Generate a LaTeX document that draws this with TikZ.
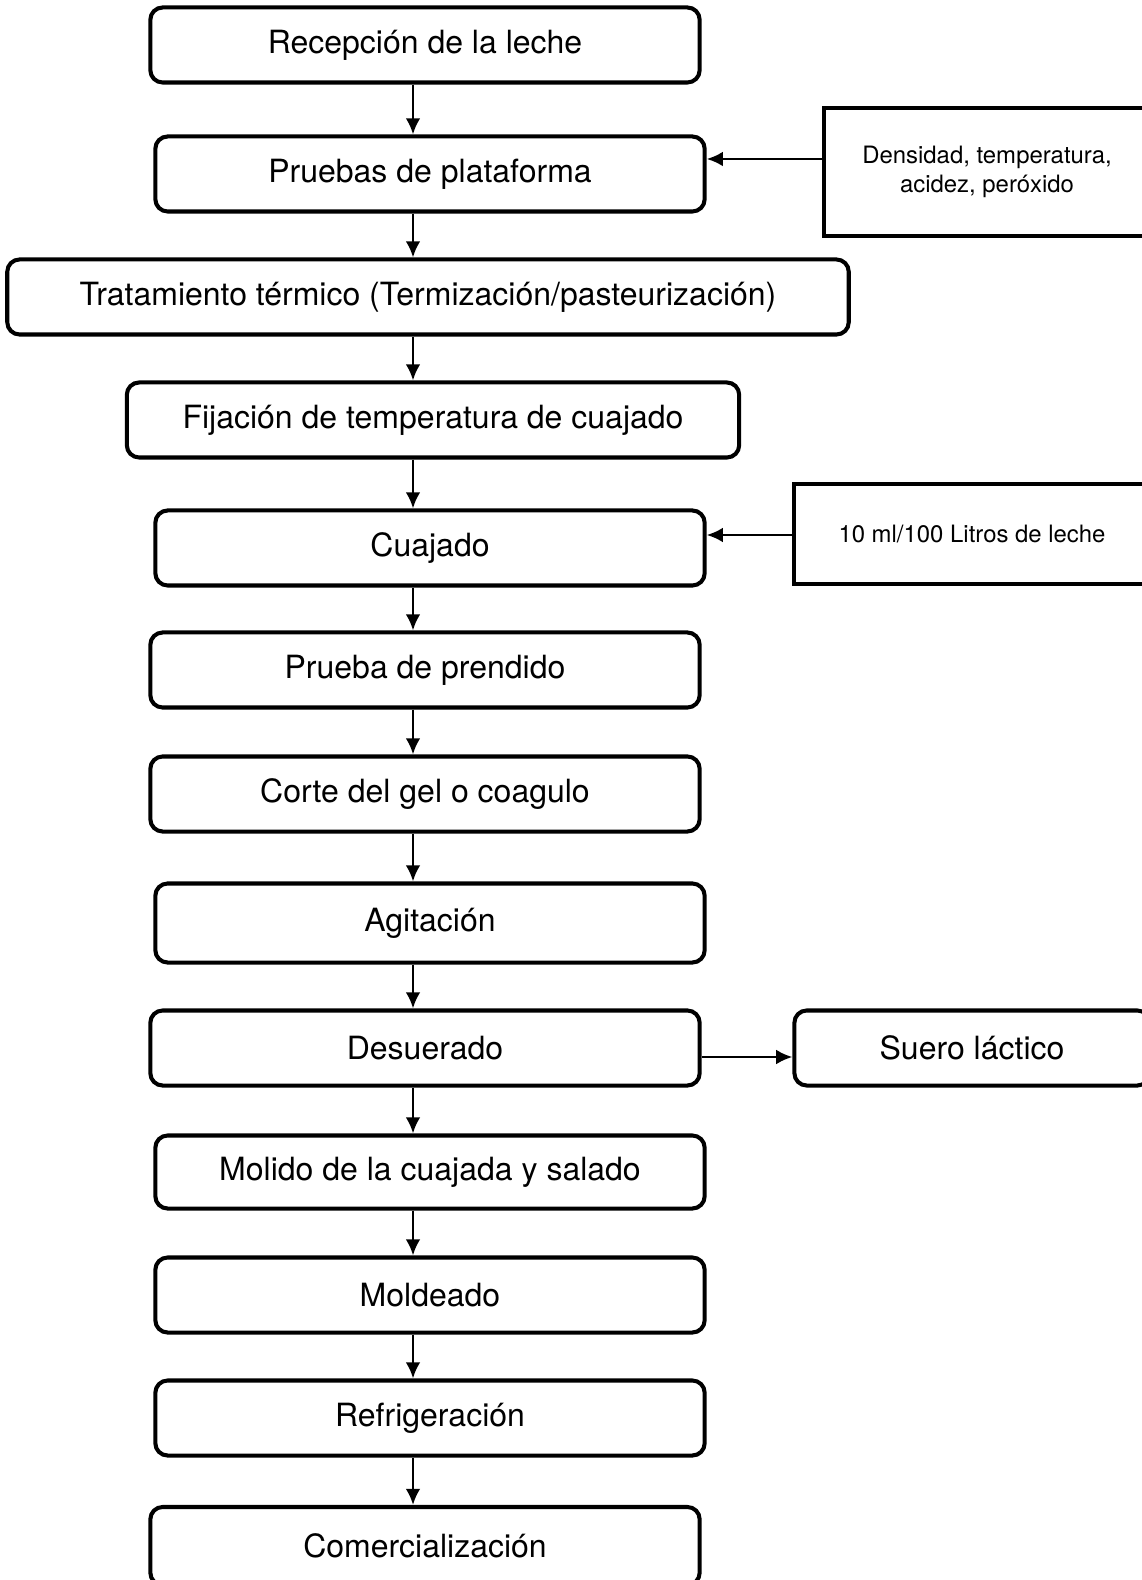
\documentclass[tikz,border=0pt]{standalone}
\usepackage{fontspec}
\setmainfont{TeX Gyre Heros}
\usetikzlibrary{arrows.meta}

\begin{document}
\begin{tikzpicture}[x=0.01cm,y=-0.01cm,
  paso/.style={draw,line width=1.15pt,rounded corners=3.5pt,minimum height=0.75cm,inner sep=0pt,font=\fontsize{9.1}{11}\selectfont},
  dato/.style={draw,line width=1.15pt,inner sep=0pt,align=center,font=\fontsize{6.8}{8.1}\selectfont},
  flecha/.style={-{Latex[length=4.6pt,width=4.2pt]},line width=0.75pt}]

\useasboundingbox (0,0) rectangle (1141,1580);

\node[paso,minimum width=5.49cm] (recep)    at (425,45)   {Recepción de la leche};
\node[paso,minimum width=5.49cm] (pruebas)  at (430,174)  {Pruebas de plataforma};
\node[paso,minimum width=8.41cm] (termico)  at (428,297)  {Tratamiento térmico (Termización/pasteurización)};
\node[paso,minimum width=6.12cm] (fijacion) at (433,420)  {Fijación de temperatura de cuajado};
\node[paso,minimum width=5.49cm] (cuajado)  at (430,548)  {Cuajado};
\node[paso,minimum width=5.49cm] (prendido) at (425,670)  {Prueba de prendido};
\node[paso,minimum width=5.49cm] (corte)    at (425,794)  {Corte del gel o coagulo};
\node[paso,minimum width=5.49cm,minimum height=0.79cm] (agitacion) at (430,923) {Agitación};
\node[paso,minimum width=5.49cm] (desuerado) at (425,1048) {Desuerado};
\node[paso,minimum width=5.49cm,minimum height=0.73cm] (molido) at (430,1172) {Molido de la cuajada y salado};
\node[paso,minimum width=5.49cm] (moldeado) at (430,1295) {Moldeado};
\node[paso,minimum width=5.49cm] (refrig)   at (430,1418) {Refrigeración};
\node[paso,minimum width=5.49cm,minimum height=0.78cm] (comercial) at (425,1546) {Comercialización};

% datos al lado derecho
\node[dato,minimum width=3.25cm,minimum height=1.27cm] (dens) at (987,172)
  {Densidad, temperatura,\\acidez, peróxido};
\node[dato,minimum width=3.55cm,minimum height=1.0cm] (ml) at (972,534)
  {10 ml/100 Litros de leche};
\node[paso,minimum width=3.55cm] (suero) at (972,1048) {Suero láctico};

\coordinate (eje) at (413,0);
\foreach \a/\b in {recep/pruebas,pruebas/termico,termico/fijacion,fijacion/cuajado,
  cuajado/prendido,prendido/corte,corte/agitacion,agitacion/desuerado,
  desuerado/molido,molido/moldeado,moldeado/refrig,refrig/comercial}
  \draw[flecha] (\a.south -| eje) -- (\b.north -| eje);

\draw[flecha] (dens.west |- 0,159) -- (pruebas.east |- 0,159);
\draw[flecha] (ml.west |- 0,535) -- (cuajado.east |- 0,535);
\draw[flecha] (desuerado.east |- 0,1057) -- (suero.west |- 0,1057);

\end{tikzpicture}
\end{document}
